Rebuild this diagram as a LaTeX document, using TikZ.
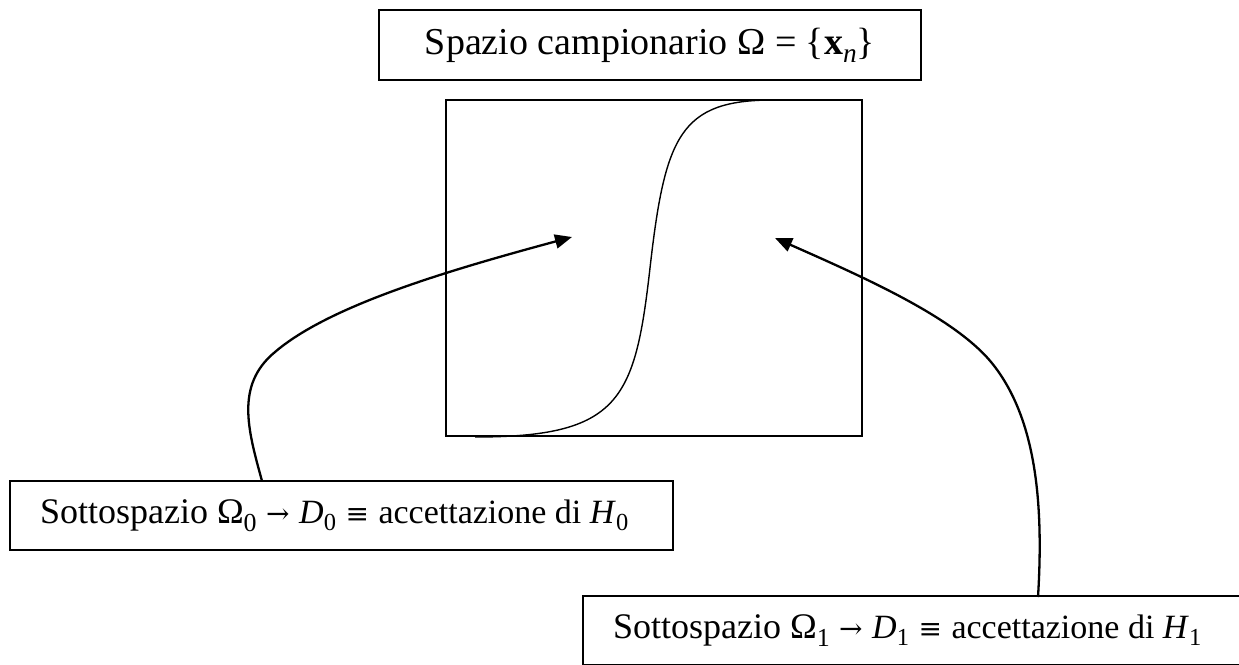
\documentclass[tikz,border=0pt]{standalone}
\usepackage{fontspec}
\setmainfont{Liberation Serif}
\newfontfamily\symf{DejaVu Serif}
\usetikzlibrary{arrows.meta}
\newcommand\sbs[1]{\raisebox{-0.22em}{\scalebox{0.72}{#1}}}
\newcommand\rel[1]{\hspace{0.28em}{\symf\fontsize{28}{32}\selectfont #1}\hspace{0.28em}}
\newcommand\hyp[1]{\noindent\mbox{\spaceskip=0pt\xspaceskip=0pt{\fontsize{36}{40}\selectfont Sottospazio Ω\sbs{#1}}{\fontsize{34}{38}\selectfont\rel{→}\textit{D}\sbs{#1}\rel{≡}accettazione di \textit{H}\sbs{#1}}}}
\begin{document}
\begin{tikzpicture}[x=1pt,y=-1pt,
  lbl/.style={draw, line width=1.8pt, rectangle, inner sep=0pt},
  hbox/.style={lbl, minimum height=69pt, text width=603pt, inner xsep=30pt},
  region/.style={draw, line width=1.4pt, rectangle, inner sep=0pt},
  border/.style={line width=1.4pt},
  conn/.style={line width=2.3pt, -{Triangle[length=17pt,width=14pt]}}]
\useasboundingbox (0,0) rectangle (1239,664);
\clip (0,0) rectangle (1239,664);
\node[lbl, minimum width=542pt, minimum height=70pt] (title) at (650,45)
  {\fontsize{38}{44}\selectfont Spazio campionario Ω = \{\textbf{x}\sbs{\textit{n}}\}};
\node[region, minimum width=416pt, minimum height=336pt] (space) at (654,268) {};
\node[hbox] (h0) at (341.5,515.5) {\hyp{0}};
\node[hbox] (h1) at (914.5,630.5) {\hyp{1}};
% decision boundary
\coordinate (b0) at (475,437);
\coordinate (bm) at (650,268);
\coordinate (b1) at (773,100);
\draw[border] (b0) .. controls (620,437) and (635,400) .. (bm)
  .. controls (665,136) and (680,100) .. (b1);
% connectors
\coordinate (s0) at (262,481);
\coordinate (m0) at (275,352);
\coordinate (t0) at (572,237);
\draw[conn] (s0) .. controls (248,430) and (235,385) .. (m0)
  .. controls (330,305) and (450,270) .. (t0);
\coordinate (s1) at (1038,597);
\coordinate (m1) at (995,367);
\coordinate (t1) at (775,238);
\draw[conn] (s1) .. controls (1044,500) and (1035,420) .. (m1)
  .. controls (960,320) and (870,280) .. (t1);
\end{tikzpicture}
\end{document}
